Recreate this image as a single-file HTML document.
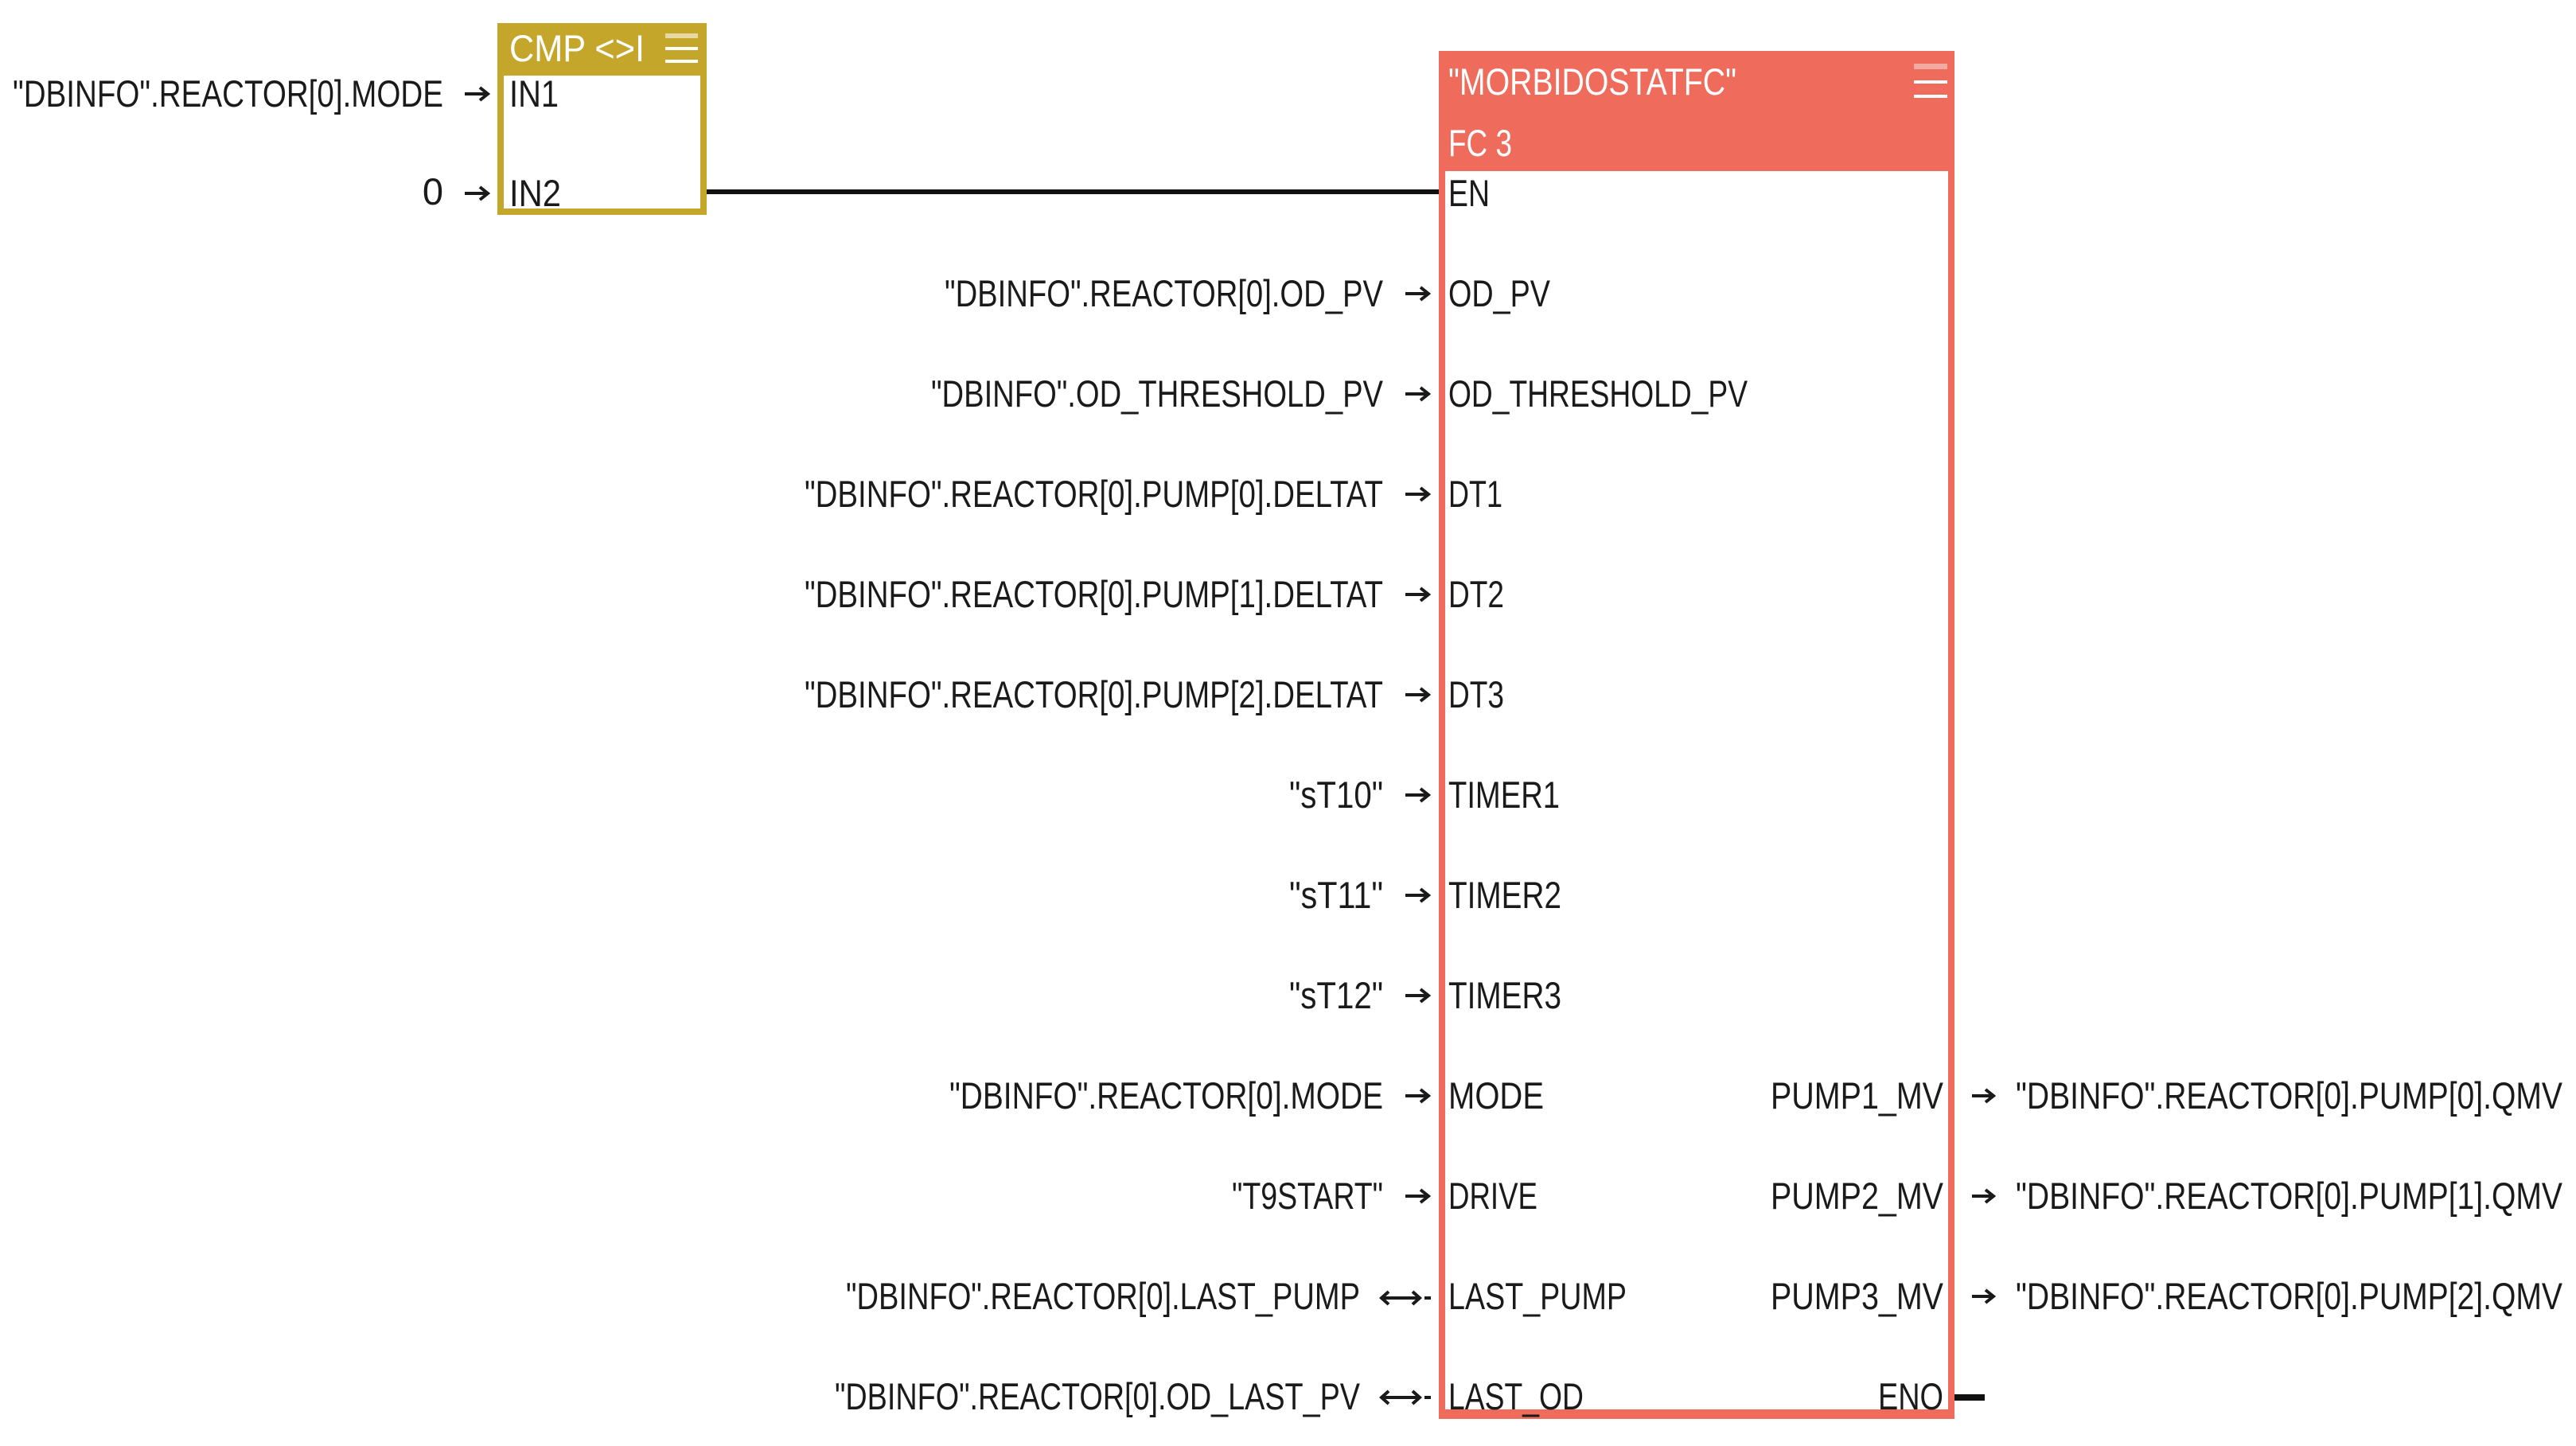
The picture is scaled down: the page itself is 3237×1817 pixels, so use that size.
<!DOCTYPE html>
<html><head><meta charset="utf-8"><style>
html,body{margin:0;padding:0;background:#fff;}
svg{display:block}
text{font-family:"Liberation Sans",sans-serif;font-size:47px;fill:#1a1a1a}
.w{fill:#fff}
</style></head><body>
<svg width="3237" height="1817" viewBox="0 0 3237 1817" xmlns="http://www.w3.org/2000/svg">
<!-- CMP box -->
<rect x="629" y="33" width="255" height="233" fill="#fff" stroke="#C4A62A" stroke-width="8"/>
<rect x="625" y="29" width="263" height="66" fill="#C4A62A"/>
<text class="w" x="640" y="77" textLength="170" lengthAdjust="spacingAndGlyphs">CMP &lt;&gt;I</text>
<rect x="836" y="42" width="41" height="6" fill="#e6d9a0"/>
<rect x="836" y="59" width="41" height="4" fill="#fff"/>
<rect x="836" y="75" width="41" height="4" fill="#fff"/>
<text x="640" y="134" textLength="62" lengthAdjust="spacingAndGlyphs">IN1</text>
<text x="640" y="259" textLength="65" lengthAdjust="spacingAndGlyphs">IN2</text>
<text x="557" y="134" text-anchor="end" textLength="541" lengthAdjust="spacingAndGlyphs">"DBINFO".REACTOR[0].MODE</text>
<text x="557" y="257" text-anchor="end">0</text>
<g stroke="#1a1a1a" stroke-width="4" fill="none">
<path d="M584 118 H612 M603 110 L613 118 L603 126"/>
<path d="M584 243 H612 M603 235 L613 243 L603 251"/>
</g>
<!-- EN line -->
<rect x="888" y="238" width="922" height="6" fill="#111"/>
<!-- FC box -->
<rect x="1812" y="68" width="640" height="1711" fill="#fff" stroke="#EF6C5C" stroke-width="8"/>
<rect x="1808" y="1771" width="648" height="12" fill="#EF6C5C"/>
<rect x="1808" y="64" width="648" height="151" fill="#EF6C5C"/>
<text class="w" x="1820" y="119" textLength="362" lengthAdjust="spacingAndGlyphs">"MORBIDOSTATFC"</text>
<text class="w" x="1820" y="196" textLength="80" lengthAdjust="spacingAndGlyphs">FC 3</text>
<rect x="2405" y="80" width="42" height="7" fill="#f3aaa0"/>
<rect x="2405" y="101" width="42" height="4" fill="#fff"/>
<rect x="2405" y="119" width="42" height="4" fill="#fff"/>
<!-- pins -->
<text x="1820" y="259" textLength="52" lengthAdjust="spacingAndGlyphs">EN</text>
<text x="1820" y="385" textLength="128" lengthAdjust="spacingAndGlyphs">OD_PV</text>
<text x="1820" y="511" textLength="376" lengthAdjust="spacingAndGlyphs">OD_THRESHOLD_PV</text>
<text x="1820" y="637" textLength="68" lengthAdjust="spacingAndGlyphs">DT1</text>
<text x="1820" y="763" textLength="70" lengthAdjust="spacingAndGlyphs">DT2</text>
<text x="1820" y="889" textLength="70" lengthAdjust="spacingAndGlyphs">DT3</text>
<text x="1820" y="1015" textLength="140" lengthAdjust="spacingAndGlyphs">TIMER1</text>
<text x="1820" y="1141" textLength="142" lengthAdjust="spacingAndGlyphs">TIMER2</text>
<text x="1820" y="1267" textLength="142" lengthAdjust="spacingAndGlyphs">TIMER3</text>
<text x="1820" y="1393" textLength="120" lengthAdjust="spacingAndGlyphs">MODE</text>
<text x="1820" y="1519" textLength="112" lengthAdjust="spacingAndGlyphs">DRIVE</text>
<text x="1820" y="1645" textLength="224" lengthAdjust="spacingAndGlyphs">LAST_PUMP</text>
<text x="1820" y="1771" textLength="170" lengthAdjust="spacingAndGlyphs">LAST_OD</text>
<text x="2442" y="1393" text-anchor="end" textLength="217" lengthAdjust="spacingAndGlyphs">PUMP1_MV</text>
<text x="2442" y="1519" text-anchor="end" textLength="217" lengthAdjust="spacingAndGlyphs">PUMP2_MV</text>
<text x="2442" y="1645" text-anchor="end" textLength="217" lengthAdjust="spacingAndGlyphs">PUMP3_MV</text>
<text x="2442" y="1771" text-anchor="end" textLength="82" lengthAdjust="spacingAndGlyphs">ENO</text>
<rect x="2456" y="1752" width="38" height="8" fill="#111"/>
<!-- left operands -->
<text x="1738" y="385" text-anchor="end" textLength="551" lengthAdjust="spacingAndGlyphs">"DBINFO".REACTOR[0].OD_PV</text>
<text x="1738" y="511" text-anchor="end" textLength="568" lengthAdjust="spacingAndGlyphs">"DBINFO".OD_THRESHOLD_PV</text>
<text x="1738" y="637" text-anchor="end" textLength="727" lengthAdjust="spacingAndGlyphs">"DBINFO".REACTOR[0].PUMP[0].DELTAT</text>
<text x="1738" y="763" text-anchor="end" textLength="727" lengthAdjust="spacingAndGlyphs">"DBINFO".REACTOR[0].PUMP[1].DELTAT</text>
<text x="1738" y="889" text-anchor="end" textLength="727" lengthAdjust="spacingAndGlyphs">"DBINFO".REACTOR[0].PUMP[2].DELTAT</text>
<text x="1738" y="1015" text-anchor="end" textLength="118" lengthAdjust="spacingAndGlyphs">"sT10"</text>
<text x="1738" y="1141" text-anchor="end" textLength="118" lengthAdjust="spacingAndGlyphs">"sT11"</text>
<text x="1738" y="1267" text-anchor="end" textLength="118" lengthAdjust="spacingAndGlyphs">"sT12"</text>
<text x="1738" y="1393" text-anchor="end" textLength="545" lengthAdjust="spacingAndGlyphs">"DBINFO".REACTOR[0].MODE</text>
<text x="1738" y="1519" text-anchor="end" textLength="190" lengthAdjust="spacingAndGlyphs">"T9START"</text>
<text x="1709" y="1645" text-anchor="end" textLength="646" lengthAdjust="spacingAndGlyphs">"DBINFO".REACTOR[0].LAST_PUMP</text>
<text x="1709" y="1771" text-anchor="end" textLength="660" lengthAdjust="spacingAndGlyphs">"DBINFO".REACTOR[0].OD_LAST_PV</text>
<g stroke="#1a1a1a" stroke-width="4" fill="none">
<path d="M1766 369 H1794 M1785 361 L1795 369 L1785 377"/>
<path d="M1766 495 H1794 M1785 487 L1795 495 L1785 503"/>
<path d="M1766 621 H1794 M1785 613 L1795 621 L1785 629"/>
<path d="M1766 747 H1794 M1785 739 L1795 747 L1785 755"/>
<path d="M1766 873 H1794 M1785 865 L1795 873 L1785 881"/>
<path d="M1766 999 H1794 M1785 991 L1795 999 L1785 1007"/>
<path d="M1766 1125 H1794 M1785 1117 L1795 1125 L1785 1133"/>
<path d="M1766 1251 H1794 M1785 1243 L1795 1251 L1785 1259"/>
<path d="M1766 1377 H1794 M1785 1369 L1795 1377 L1785 1385"/>
<path d="M1766 1503 H1794 M1785 1495 L1795 1503 L1785 1511"/>
<path d="M1736 1631 H1784 M1745 1623 L1736 1631 L1745 1639 M1775 1623 L1784 1631 L1775 1639"/>
<path d="M1736 1756 H1784 M1745 1748 L1736 1756 L1745 1764 M1775 1748 L1784 1756 L1775 1764"/>
<path d="M1790 1631 H1798 M1790 1756 H1798"/>
<path d="M2478 1377 H2504 M2495 1369 L2505 1377 L2495 1385"/>
<path d="M2478 1503 H2504 M2495 1495 L2505 1503 L2495 1511"/>
<path d="M2478 1629 H2504 M2495 1621 L2505 1629 L2495 1637"/>
</g>
<!-- outputs -->
<text x="2533" y="1393" textLength="687" lengthAdjust="spacingAndGlyphs">"DBINFO".REACTOR[0].PUMP[0].QMV</text>
<text x="2533" y="1519" textLength="687" lengthAdjust="spacingAndGlyphs">"DBINFO".REACTOR[0].PUMP[1].QMV</text>
<text x="2533" y="1645" textLength="687" lengthAdjust="spacingAndGlyphs">"DBINFO".REACTOR[0].PUMP[2].QMV</text>
</svg>
</body></html>
